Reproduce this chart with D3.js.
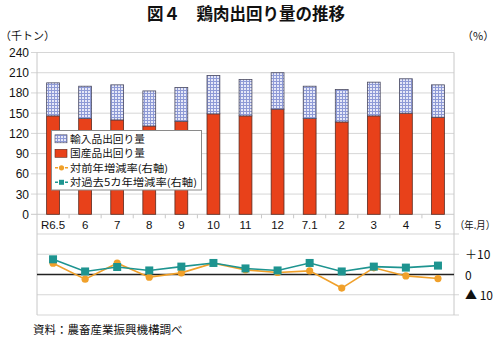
<!DOCTYPE html>
<html><head><meta charset="utf-8">
<script src="https://cdn.jsdelivr.net/npm/d3@7"></script>
<style>
body{margin:0;background:#fff;}
svg text{font-family:"Liberation Sans","Noto Sans CJK JP",sans-serif;fill:#111;}
.jp{font-family:"Noto Sans CJK JP",sans-serif;}
</style></head>
<body>
<svg id="c" width="500" height="341"></svg>
<script>
const categories = ["R6.5","6","7","8","9","10","11","12","7.1","2","3","4","5"];
const domestic = [146,142,140,131,138,149,146,156,142,137,146,150,144];
const imports  = [49,48,52,52,50,57,54,54,48,48,50,51,48];
const yoy      = [5.6,-2.3,5.6,-1.3,0.8,5.6,2.3,1.0,1.8,-6.7,3.3,-0.7,-2.0];
const vs5yr    = [7.5,1.5,3.7,2.0,3.9,5.7,3.0,2.0,5.7,1.5,3.9,3.4,4.4];
const leftTicks = [0,30,60,90,120,150,180,210,240];
const rightTicks = [{v:10,t:"＋10"},{v:0,t:"0"},{v:-10,t:"▲ 10"}];
const legendNames = ["輸入品出回り量","国産品出回り量","対前年増減率(右軸)","対過去5カ年増減率(右軸)"];

const svg = d3.select("#c");
const L=37, R=454;
const x = d3.scaleBand().domain(categories).range([L,R]).paddingInner(0.6).paddingOuter(0.3);
const y = d3.scaleLinear().domain([0,240]).range([214.3,52.5]);
const y2 = d3.scaleLinear().domain([-20,20]).range([315,234]);

// pattern
const defs = svg.append("defs");
const pat = defs.append("pattern").attr("id","grid").attr("patternUnits","userSpaceOnUse").attr("width",3).attr("height",3);
pat.append("rect").attr("width",3).attr("height",3).attr("fill","#e6e8f8");
pat.append("path").attr("d","M0,0.5H3M0.5,0V3").attr("stroke","#8e9ad6").attr("stroke-width",1);

// title
svg.append("text").attr("class","jp").attr("x",246).attr("y",20).attr("text-anchor","middle")
  .attr("font-size",16.5).attr("font-weight","bold").text("図４　鶏肉出回り量の推移");
svg.append("text").attr("class","jp").attr("x",0).attr("y",40).attr("font-size",11).text("（千トン）");
svg.append("text").attr("class","jp").attr("x",462).attr("y",40).attr("font-size",11).text("（%）");

// upper gridlines
svg.append("g").selectAll("line").data(leftTicks.filter(d=>d>0)).join("line")
  .attr("x1",31).attr("x2",R).attr("y1",d=>y(d)).attr("y2",d=>y(d))
  .attr("stroke","#d6d6d6").attr("stroke-width",1);
svg.append("g").selectAll("text").data(leftTicks).join("text")
  .attr("x",29).attr("y",d=>y(d)+4.5).attr("text-anchor","end").attr("font-size",12).text(d=>d);

// lower gridlines
svg.append("g").selectAll("line").data([20,10,-10,-20]).join("line")
  .attr("x1",L).attr("x2",R+5).attr("y1",d=>y2(d)).attr("y2",d=>y2(d))
  .attr("stroke","#d6d6d6").attr("stroke-width",1.2);

// axes verticals
svg.append("line").attr("x1",L).attr("x2",L).attr("y1",y(240)).attr("y2",y2(-20)).attr("stroke","#c8c8c8");
svg.append("line").attr("x1",R).attr("x2",R).attr("y1",y(240)).attr("y2",y2(-20)).attr("stroke","#c8c8c8");

// x axis line and ticks
svg.append("line").attr("x1",31).attr("x2",R).attr("y1",y(0)).attr("y2",y(0)).attr("stroke","#c8c8c8");
const bounds = categories.map((c,i)=>L + i*(R-L)/categories.length).slice(1);
svg.append("g").selectAll("line").data(bounds).join("line")
  .attr("x1",d=>d).attr("x2",d=>d).attr("y1",y(0)).attr("y2",y(0)+4).attr("stroke","#c8c8c8");

// bars
const bw = x.bandwidth();
svg.append("g").selectAll("rect").data(categories).join("rect")
  .attr("x",d=>x(d)).attr("width",bw)
  .attr("y",(d,i)=>y(domestic[i])).attr("height",(d,i)=>y(0)-y(domestic[i]))
  .attr("fill","#e8411a").attr("stroke","#5a2a20").attr("stroke-width",0.8);
svg.append("g").selectAll("rect").data(categories).join("rect")
  .attr("x",d=>x(d)).attr("width",bw)
  .attr("y",(d,i)=>y(domestic[i]+imports[i])).attr("height",(d,i)=>y(domestic[i])-y(domestic[i]+imports[i]))
  .attr("fill","url(#grid)").attr("stroke","#4a4a60").attr("stroke-width",0.8);

// x labels
svg.append("g").selectAll("text").data(categories).join("text")
  .attr("x",d=>x(d)+bw/2).attr("y",229).attr("text-anchor","middle").attr("font-size",11.5).text(d=>d);
svg.append("text").attr("class","jp").attr("x",455).attr("y",229).attr("font-size",10.5)
  .attr("textLength",40).attr("lengthAdjust","spacingAndGlyphs").text("（年.月）");

// right labels
svg.append("g").selectAll("text").data(rightTicks).join("text")
  .attr("class","jp").attr("x",465).attr("y",d=>y2(d.v)+5).attr("font-size",12).text(d=>d.t);

// zero line
svg.append("line").attr("x1",L).attr("x2",R).attr("y1",y2(0)).attr("y2",y2(0)).attr("stroke","#222").attr("stroke-width",1.5);

const cx = d=>x(d)+bw/2;
const line = d3.line().x(d=>cx(d.c)).y(d=>y2(d.v));
const yoyD = categories.map((c,i)=>({c,v:yoy[i]}));
const v5D = categories.map((c,i)=>({c,v:vs5yr[i]}));
const ORANGE="#f0a02a", TEAL="#1e9490";
svg.append("path").datum(yoyD).attr("d",line).attr("fill","none").attr("stroke",ORANGE).attr("stroke-width",1.6);
svg.append("g").selectAll("circle").data(yoyD).join("circle")
  .attr("cx",d=>cx(d.c)).attr("cy",d=>y2(d.v)).attr("r",3.6).attr("fill",ORANGE);
svg.append("path").datum(v5D).attr("d",line).attr("fill","none").attr("stroke",TEAL).attr("stroke-width",1.6);
svg.append("g").selectAll("rect").data(v5D).join("rect")
  .attr("x",d=>cx(d.c)-4).attr("y",d=>y2(d.v)-4).attr("width",8).attr("height",8).attr("fill",TEAL);

// legend
const lg = svg.append("g");
lg.append("rect").attr("x",51.5).attr("y",130.5).attr("width",150).attr("height",59.5).attr("fill","#fff").attr("stroke","#8a8a8a");
const types = ["pat","red","o","s"];
const tl = [75,75,98,127];
legendNames.forEach((name,i)=>{
  const type = types[i];
  const yy = 138.8 + i*14.5;
  if(type==="pat"){
    lg.append("rect").attr("x",55).attr("y",yy-4).attr("width",12).attr("height",8).attr("fill","url(#grid)").attr("stroke","#4a4a60").attr("stroke-width",0.6);
  } else if(type==="red"){
    lg.append("rect").attr("x",55).attr("y",yy-4).attr("width",12).attr("height",8).attr("fill","#e8411a").attr("stroke","#5a2a20").attr("stroke-width",0.6);
  } else {
    const col = type==="o"?ORANGE:TEAL;
    lg.append("line").attr("x1",55).attr("x2",68).attr("y1",yy).attr("y2",yy).attr("stroke",col).attr("stroke-width",1.5).attr("stroke-dasharray","3,2");
    if(type==="o") lg.append("circle").attr("cx",61.5).attr("cy",yy).attr("r",2.6).attr("fill",col);
    else lg.append("rect").attr("x",59).attr("y",yy-2.5).attr("width",5).attr("height",5).attr("fill",col);
  }
  lg.append("text").attr("class","jp").attr("x",70).attr("y",yy+3.8).attr("font-size",10)
    .attr("textLength",tl[i]).attr("lengthAdjust","spacingAndGlyphs").text(name);
});

// source
svg.append("text").attr("class","jp").attr("x",33).attr("y",334).attr("font-size",11.5).text("資料：農畜産業振興機構調べ");
</script>
</body></html>
